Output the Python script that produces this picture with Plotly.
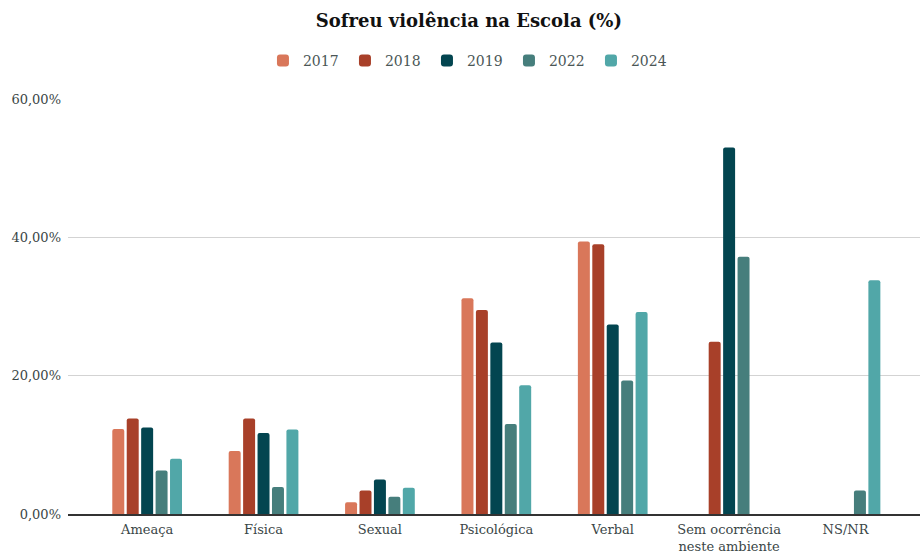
import plotly.graph_objects as go

categories = ["Ameaça", "Física", "Sexual", "Psicológica", "Verbal",
              "Sem ocorrência<br>neste ambiente", "NS/NR"]
years = ["2017", "2018", "2019", "2022", "2024"]

v2017 = [12.3, 9.1, 1.7, 31.2, 39.4, None, None]
v2018 = [13.8, 13.8, 3.4, 29.5, 39.0, 24.9, None]
v2019 = [12.5, 11.7, 5.0, 24.8, 27.4, 53.0, None]
v2022 = [6.3, 3.9, 2.5, 13.0, 19.3, 37.2, 3.4]
v2024 = [8.0, 12.2, 3.8, 18.6, 29.2, None, 33.8]

tick_vals = [0, 20, 40, 60]
tick_text = ["0,00%", "20,00%", "40,00%", "60,00%"]

values = [v2017, v2018, v2019, v2022, v2024]
colors = ["#D9775A", "#A84029", "#034550", "#467E7C", "#51A7A8"]

font_family = "Georgia, 'DejaVu Serif', serif"

fig = go.Figure()
for year, vals, color in zip(years, values, colors):
    fig.add_trace(go.Bar(x=categories, y=vals, name=year, marker_color=color,
                         marker_line_width=0))

# formatting
fig.update_layout(
    width=923, height=554,
    barmode="group", bargap=0.38, bargroupgap=0.17, barcornerradius=2,
    separators=",.",
    plot_bgcolor="white", paper_bgcolor="white",
    font=dict(family=font_family, size=13, color="#3a4646"),
    margin=dict(l=68, r=3, t=99, b=40, autoexpand=False),
    title=dict(text="<b>Sofreu violência na Escola (%)</b>", x=0.508, xref="container",
               xanchor="center", y=0.963, yref="container", yanchor="middle",
               font=dict(family=font_family, size=18, color="#111111")),
    legend=dict(orientation="h", x=0.507, xref="container", xanchor="center",
                y=0.89, yref="container", yanchor="middle",
                font=dict(size=14, color="#4a5656"), entrywidth=37),
    showlegend=True,
)

fig.update_xaxes(range=[-0.68, 6.64], showgrid=False, showline=True, linecolor="#333333",
                 linewidth=1.5, automargin=False, ticklabelstandoff=3,
                 tickfont=dict(size=13, color="#3a4646"))
fig.update_yaxes(range=[0, 60], tickvals=tick_vals, ticktext=tick_text,
                 showgrid=True, gridcolor="#d3d3d3", gridwidth=1, zeroline=False,
                 automargin=False, ticklabelstandoff=6,
                 tickfont=dict(size=13, color="#3a4646"))

fig.write_html("out.html", config={"displayModeBar": False},
               post_script="document.body.style.margin='0';")
